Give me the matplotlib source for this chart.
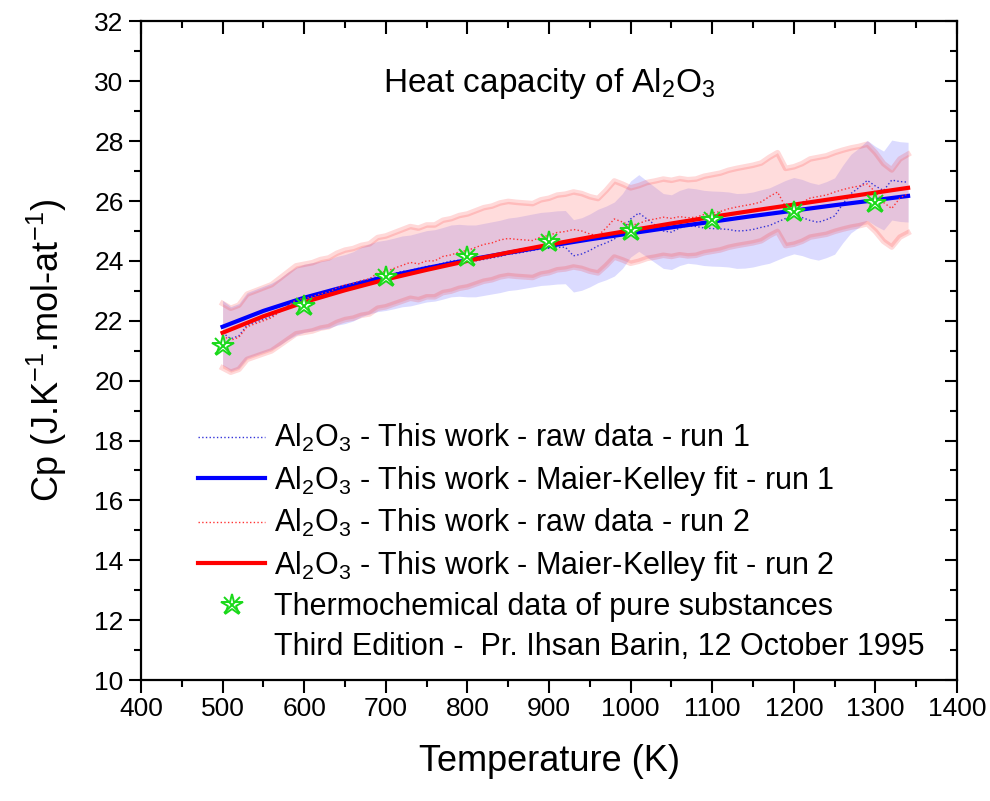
import matplotlib
matplotlib.use("Agg")
import matplotlib.pyplot as plt
from matplotlib.lines import Line2D
import numpy as np

plt.rcParams['font.family'] = ['Liberation Sans', 'DejaVu Sans']
plt.rcParams['mathtext.fontset'] = 'custom'
plt.rcParams['mathtext.rm'] = 'Liberation Sans'
plt.rcParams['mathtext.it'] = 'Liberation Sans'

# raw data, both runs on the same temperature grid (K)
temp_raw = list(range(500, 1341, 10))
cp_run1 = [21.6, 21.4, 21.5, 21.85, 21.95, 22.05, 22.15, 22.3, 22.5, 22.65,
           22.75, 22.8, 22.85, 22.9, 23.0, 23.06, 23.15, 23.3, 23.4, 23.48,
           23.52, 23.58, 23.65, 23.68, 23.75, 23.82, 23.85, 23.92, 24.0, 24.02,
           24.0, 24.0, 24.05, 24.1, 24.15, 24.22, 24.25, 24.3, 24.35, 24.4,
           24.42, 24.45, 24.46, 24.17, 24.23, 24.35, 24.5, 24.6, 24.73, 25.0,
           25.4, 25.6, 25.4, 25.2, 25.0, 24.96, 25.1, 25.18, 25.15, 25.1,
           25.08, 25.07, 25.05, 25.0, 25.01, 25.05, 25.12, 25.18, 25.3, 25.42,
           25.51, 25.45, 25.35, 25.29, 25.38, 25.5, 25.9, 26.25, 26.45, 26.69,
           26.5, 26.35, 26.7, 26.65, 26.63]
cp_run2 = [21.5, 21.35, 21.45, 21.8, 21.9, 22.0, 22.1, 22.3, 22.5, 22.7,
           22.75, 22.8, 22.9, 22.95, 23.1, 23.2, 23.25, 23.35, 23.4, 23.6,
           23.65, 23.75, 23.85, 23.95, 23.9, 24.0, 24.0, 24.15, 24.2, 24.3,
           24.35, 24.45, 24.55, 24.6, 24.7, 24.75, 24.72, 24.7, 24.68, 24.8,
           24.85, 24.95, 24.98, 25.05, 25.0, 24.9, 24.84, 25.1, 25.4, 25.3,
           25.18, 25.25, 25.35, 25.4, 25.46, 25.42, 25.48, 25.44, 25.46, 25.55,
           25.6, 25.65, 25.74, 25.8, 25.85, 25.9, 25.97, 26.15, 26.3, 25.8,
           25.85, 25.95, 26.1, 26.15, 26.2, 26.3, 26.38, 26.45, 26.5, 26.57,
           26.3, 25.95, 25.75, 26.1, 26.25]
uncertainty = 0.05  # +/- 5 % band around the raw data

# Maier-Kelley fits
temp_fit = [500, 550, 600, 650, 700, 750, 800, 850, 900, 950, 1000,
            1050, 1100, 1150, 1200, 1250, 1300, 1340]
fit_run1 = [21.80, 22.33, 22.77, 23.14, 23.47, 23.76, 24.03, 24.27, 24.50,
            24.72, 24.92, 25.12, 25.31, 25.50, 25.68, 25.86, 26.03, 26.17]
fit_run2 = [21.60, 22.15, 22.62, 23.02, 23.38, 23.70, 24.00, 24.28, 24.54,
            24.79, 25.02, 25.25, 25.47, 25.68, 25.88, 26.08, 26.28, 26.44]

# Barin tables
temp_barin = [500, 600, 700, 800, 900, 1000, 1100, 1200, 1300]
cp_barin = [21.15, 22.5, 23.47, 24.12, 24.62, 25.0, 25.38, 25.64, 25.94]

fig = plt.figure(figsize=(9.9, 8.01), dpi=100)
ax = fig.add_axes([0.1424, 0.151, 0.8243, 0.8223])

t = np.array(temp_raw)
r1 = np.array(cp_run1)
r2 = np.array(cp_run2)

ax.fill_between(t, r1 * (1 - uncertainty), r1 * (1 + uncertainty),
                color=(0.6, 0.6, 1.0), alpha=0.35, lw=0)
ax.fill_between(t, r2 * (1 - uncertainty), r2 * (1 + uncertainty),
                color=(1.0, 0.55, 0.55), alpha=0.3, lw=0)
ax.plot(t, r2 * (1 + uncertainty), color='red', alpha=0.15, lw=4)
ax.plot(t, r2 * (1 - uncertainty), color='red', alpha=0.15, lw=4)

ax.plot(temp_raw, cp_run1, color=(0.2, 0.2, 0.85), ls=':', lw=1.0,
        label=r'Al$_2$O$_3$ - This work - raw data - run 1')
ax.plot(temp_fit, fit_run1, color=(0, 0, 1), lw=3,
        label=r'Al$_2$O$_3$ - This work - Maier-Kelley fit - run 1')
ax.plot(temp_raw, cp_run2, color=(1, 0.2, 0.2), ls=':', lw=1.0,
        label=r'Al$_2$O$_3$ - This work - raw data - run 2')
ax.plot(temp_fit, fit_run2, color=(1, 0, 0), lw=3,
        label=r'Al$_2$O$_3$ - This work - Maier-Kelley fit - run 2')

green = (0.1, 0.85, 0.1)
star, = ax.plot(temp_barin, cp_barin, ls='none', marker='*', ms=16,
                mec=green, mfc='white', mew=1.4)
cross, = ax.plot(temp_barin, cp_barin, ls='none', marker='x', ms=11,
                 mec=green, mew=1.4)

handles, labels = ax.get_legend_handles_labels()
handles.append((star, cross))
labels.append('Thermochemical data of pure substances')
handles.append(Line2D([], [], ls='none', marker='none'))
labels.append('Third Edition -  Pr. Ihsan Barin, 12 October 1995')
ax.legend(handles, labels, loc='upper left', bbox_to_anchor=(0.055, 0.41),
          frameon=False, fontsize=22, handlelength=2.2, handletextpad=0.3,
          labelspacing=0.31, borderaxespad=0)

ax.text(0.5, 0.905, r'Heat capacity of Al$_2$O$_3$', transform=ax.transAxes,
        ha='center', va='center', fontsize=24)

ax.set_xlim(400, 1400)
ax.set_ylim(10, 32)
ax.set_xticks(range(400, 1401, 100))
ax.set_yticks(range(10, 33, 2))
ax.set_xticks(range(450, 1400, 100), minor=True)
ax.set_yticks(range(11, 32, 2), minor=True)
ax.set_xlabel('Temperature (K)', fontsize=26, labelpad=16)
ax.set_ylabel(r'Cp (J.K$^{-1}$.mol-at$^{-1}$)', fontsize=26, labelpad=18)

for s in ax.spines.values():
    s.set_linewidth(1.6)
ax.tick_params(which='both', labelsize=19, width=1.5)
ax.tick_params(which='major', length=9, direction='out')
ax.tick_params(which='minor', length=5, direction='out')
ax.tick_params(which='both', top=True, right=True)

# top and right ticks point inward, bottom and left outward
for tk in ax.xaxis.get_major_ticks() + ax.xaxis.get_minor_ticks():
    tk.tick2line.set_marker(3)
for tk in ax.yaxis.get_major_ticks() + ax.yaxis.get_minor_ticks():
    tk.tick2line.set_marker(0)

fig.savefig('out.png', dpi=100)
